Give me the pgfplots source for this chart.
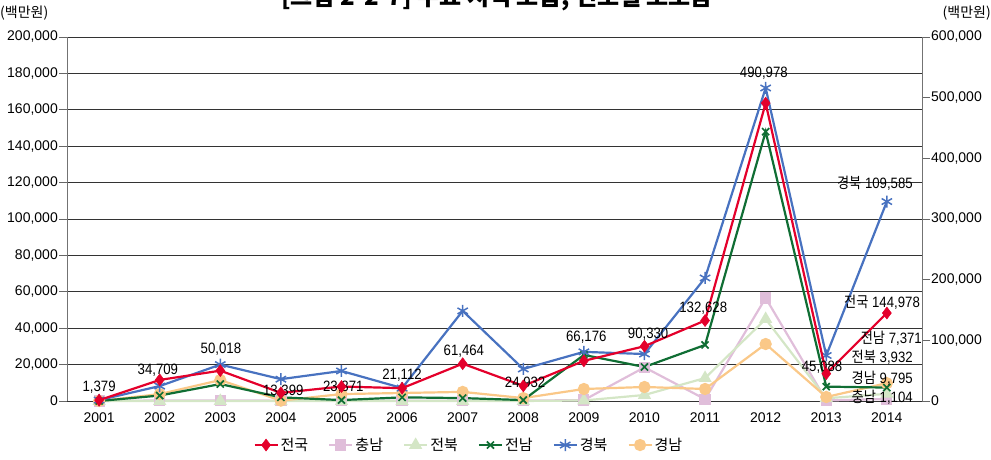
\documentclass[border=0pt]{standalone}
\usepackage{fontspec}
\setmainfont{Liberation Sans}
\newfontfamily\kr{Noto Sans CJK KR}
\newfontfamily\nar{Liberation Sans}[FakeStretch=0.88]
\newfontfamily\krn{Noto Sans CJK KR}[FakeStretch=0.88]
\usepackage{pgfplots}
\pgfplotsset{compat=1.18}
\definecolor{cNat}{RGB}{228,0,43}
\definecolor{cCN}{RGB}{224,190,218}
\definecolor{cJB}{RGB}{212,230,198}
\definecolor{cJN}{RGB}{16,110,52}
\definecolor{cGB}{RGB}{72,114,192}
\definecolor{cGN}{RGB}{250,200,136}
\tikzset{lab/.style={font=\nar\fontsize{15}{17}\selectfont, inner sep=0pt}}
\pgfplotsset{
 sNat/.style={cNat, line width=2.2pt, mark=diamond*, mark size=6pt, mark options={solid,fill=cNat,line width=0.5pt}},
 sCN/.style={cCN, line width=2.2pt, mark=square*, mark size=4.5pt, mark options={solid,fill=cCN}},
 sJB/.style={cJB, line width=2.2pt, mark=triangle*, mark size=5.5pt, mark options={solid,fill=cJB}},
 sJN/.style={cJN, line width=2.2pt, mark=x, mark size=5pt, mark options={solid,line width=1.7pt}},
 sGB/.style={cGB, line width=2.2pt, mark=asterisk, mark size=6pt, mark options={solid,line width=1.5pt}},
 sGN/.style={cGN, line width=2.2pt, mark=*, mark size=5pt, mark options={solid,fill=cGN}},
 common/.style={width=855pt, height=364pt, scale only axis, at={(67pt,59pt)}, anchor=south west,
   xmin=2000.47, xmax=2014.58, clip=false,
   tick align=outside, major tick length=8pt,
   ticklabel style={font=\fontsize{14}{16}\selectfont},
   yticklabel style={inner sep=1pt},
   /pgf/number format/fixed,
   /pgf/number format/assume math mode=true,
   /pgf/number format/1000 sep={,},
   scaled y ticks=false,
   ytick style={black!60, line width=0.8pt},
   xtick style={draw=none},
 },
}
\begin{document}
\begin{tikzpicture}
\useasboundingbox (0pt,0pt) rectangle (991pt,460pt);
\node[anchor=base, font=\kr\bfseries\fontsize{24}{26}\selectfont] at (497pt,454pt) {[그림 2-2-7] 주요 지역 보급, 연도별 보조금};
\node[anchor=west, font=\kr\fontsize{14}{16}\selectfont, inner sep=0pt] at (0pt,447pt) {(백만원)};
\node[anchor=east, font=\kr\fontsize{14}{16}\selectfont, inner sep=0pt] at (991pt,447pt) {(백만원)};
\begin{axis}[common,
  ymin=0, ymax=200000, ytick={0,20000,...,200000},
  axis x line*=bottom, axis y line*=left,
  x axis line style={black!80, line width=0.9pt},
  y axis line style={black!55, line width=0.9pt},
  ymajorgrids, grid style={black!80, line width=0.8pt},
  xtick={2001,...,2014},
  xticklabels={2001,2002,2003,2004,2005,2006,2007,2008,2009,2010,2011,2012,2013,2014},
]
\addplot[sCN] coordinates {(2001,0) (2002,300) (2003,300) (2004,200) (2005,200) (2006,200) (2007,200) (2008,200) (2009,500) (2010,18500) (2011,1000) (2012,56600) (2013,300) (2014,1104)};
\addplot[sJB] coordinates {(2001,0) (2002,0) (2003,0) (2004,0) (2005,0) (2006,0) (2007,0) (2008,0) (2009,300) (2010,3300) (2011,12600) (2012,45000) (2013,1500) (2014,3932)};
\addplot[sGN] coordinates {(2001,0) (2002,3800) (2003,11500) (2004,200) (2005,3800) (2006,4400) (2007,5000) (2008,1600) (2009,6600) (2010,7700) (2011,6600) (2012,31300) (2013,2200) (2014,9795)};
\addplot[sJN] coordinates {(2001,0) (2002,3000) (2003,9300) (2004,2000) (2005,500) (2006,2000) (2007,1600) (2008,500) (2009,25300) (2010,18700) (2011,30800) (2012,148000) (2013,7900) (2014,7371)};
\addplot[sGB] coordinates {(2001,500) (2002,8200) (2003,20000) (2004,12000) (2005,16500) (2006,7100) (2007,49500) (2008,17600) (2009,27000) (2010,25800) (2011,67600) (2012,172000) (2013,25000) (2014,109585)};
\end{axis}
\begin{axis}[common,
  ymin=0, ymax=600000, ytick={0,100000,...,600000},
  axis y line*=right, axis x line=none,
  y axis line style={black!55, line width=0.9pt},
  legend style={at={(0.47,-0.121)}, anchor=center, legend columns=6, draw=none, fill=none,
    font=\kr\fontsize{15}{17}\selectfont,
    /tikz/every even column/.append style={column sep=18pt}},
  legend cell align=left,
  legend image code/.code={\draw[mark repeat=2,mark phase=2,#1] plot coordinates {(0pt,0pt) (11.5pt,0pt) (23pt,0pt)};},
]
\addlegendimage{sNat}\addlegendentry{전국}
\addlegendimage{sCN}\addlegendentry{충남}
\addlegendimage{sJB}\addlegendentry{전북}
\addlegendimage{sJN}\addlegendentry{전남}
\addlegendimage{sGB}\addlegendentry{경북}
\addlegendimage{sGN}\addlegendentry{경남}
\addplot[sNat, forget plot] coordinates {(2001,1379) (2002,34709) (2003,50018) (2004,13399) (2005,23871) (2006,21112) (2007,61464) (2008,24932) (2009,66176) (2010,90330) (2011,132628) (2012,490978) (2013,45088) (2014,144978)};
\node[lab] at (axis cs:2001,23077) {1,379};
\node[lab] at (axis cs:2001.97,51100) {34,709};
\node[lab] at (axis cs:2003.01,85700) {50,018};
\node[lab] at (axis cs:2004.04,16500) {13,399};
\node[lab] at (axis cs:2005.03,23100) {23,871};
\node[lab] at (axis cs:2006.0,42900) {21,112};
\node[lab] at (axis cs:2007.02,82400) {61,464};
\node[lab] at (axis cs:2008.03,29700) {24,932};
\node[lab] at (axis cs:2009.04,105500) {66,176};
\node[lab] at (axis cs:2010.06,110400) {90,330};
\node[lab] at (axis cs:2010.97,153300) {132,628};
\node[lab] at (axis cs:2011.97,540700) {490,978};
\node[lab] at (axis cs:2012.93,56000) {45,088};
\node[lab] at (axis cs:2013.92,163200) {{\krn 전국} 144,978};
\node[lab, anchor=east] at (axis cs:2014.43,359300) {{\krn 경북} 109,585};
\node[lab, anchor=east] at (axis cs:2014.58,103800) {{\krn 전남} 7,371};
\node[lab, anchor=east] at (axis cs:2014.43,72500) {{\krn 전북} 3,932};
\node[lab, anchor=east] at (axis cs:2014.43,37900) {{\krn 경남} 9,795};
\node[lab, anchor=east] at (axis cs:2014.43,6600) {{\krn 충남} 1,104};
\end{axis}
\end{tikzpicture}
\end{document}
